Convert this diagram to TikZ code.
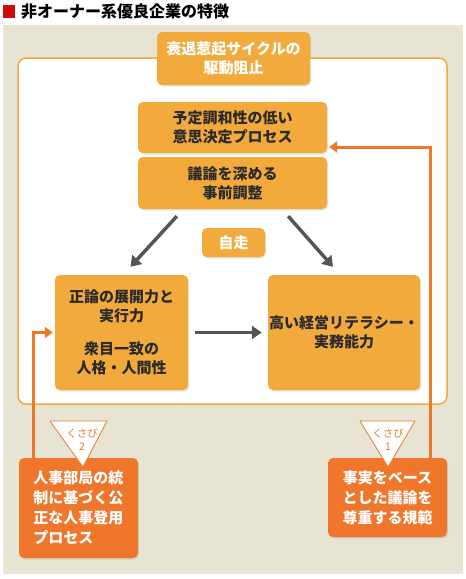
\documentclass[tikz,border=0pt]{standalone}
\usepackage{fontspec}
\setmainfont{Noto Sans CJK JP}
\usetikzlibrary{arrows.meta,shadows}

\definecolor{ground}{HTML}{E8E4D3}
\definecolor{boxorange}{HTML}{F3AA3D}
\definecolor{wedgeorange}{HTML}{EF762B}
\definecolor{arrowgray}{HTML}{555555}
\definecolor{textgray}{HTML}{2B2B2B}
\definecolor{titlered}{HTML}{CC0A0A}

\begin{document}
\begin{tikzpicture}[x=1pt, y=-1pt,
  box/.style={rounded corners=5pt, fill=boxorange, inner sep=0pt, align=center,
              font=\fontsize{15}{19}\selectfont\bfseries,
              drop shadow={opacity=0.22, shadow xshift=1pt, shadow yshift=-1.5pt}},
  soft/.style={box, text=textgray},
  bright/.style={box, text=white},
  wedgebox/.style={box, fill=wedgeorange, text=white,
                   font=\fontsize{15}{20}\selectfont\bfseries},
  flow/.style={line width=3.5pt, draw=arrowgray, -{Triangle[length=10pt,width=13pt]}},
  link/.style={line width=3pt, draw=wedgeorange, -{Triangle[length=8pt,width=11pt]}},
  wedge/.style={draw=wedgeorange, line width=0.8pt, fill=white, line join=round},
  wedgetext/.style={text=wedgeorange, font=\fontsize{10.5}{13}\selectfont,
                    align=center, inner sep=0pt},
]
\useasboundingbox (0,0) rectangle (466,579);

% Title
\fill[titlered] (3,5) rectangle (15,18);
\node[anchor=west, inner sep=0pt, font=\fontsize{16}{18}\selectfont\bfseries]
  (title) at (21,11.5) {非オーナー系優良企業の特徴};

% Background and panel
\fill[ground] (3,25) rectangle (463,574);
\draw[boxorange, line width=1.5pt, fill=white, rounded corners=8pt]
  (18,58) rectangle (447,404);

% Upper chain
\node[bright, minimum width=153pt, minimum height=53pt] (cycle) at (233.5,58.5)
  {衰退惹起サイクルの\\駆動阻止};
\node[soft, minimum width=189pt, minimum height=51pt] (decision) at (232.5,127.5)
  {予定調和性の低い\\意思決定プロセス};
\node[soft, minimum width=189pt, minimum height=52pt] (prep) at (232.5,183)
  {議論を深める\\事前調整};
\node[bright, minimum width=63pt, minimum height=29pt] (selfrun) at (233.5,242.5)
  {自走};

% Lower pair
\node[soft, minimum width=133pt, minimum height=115pt] (ethics) at (121.5,332.5)
  {正論の展開力と\\実行力\\[14pt]衆目一致の\\人格・人間性};
\node[soft, minimum width=152pt, minimum height=115pt] (literacy) at (344,332.5)
  {高い経営リテラシー・\\実務能力};

% Wedges (bottom)
\node[wedgebox, align=left, minimum width=119pt, minimum height=100pt] (hrbox)
  at (78.5,508) {人事部局の統\\制に基づく公\\正な人事登用\\プロセス};
\node[wedgebox, minimum width=119pt, minimum height=79pt] (normbox)
  at (387.5,497.5) {事実をベース\\とした議論を\\尊重する規範};

% Gray flow arrows
\draw[flow] ([xshift=39pt,yshift=-7pt]prep.south west) -- ([xshift=9pt,yshift=8pt]ethics.north);
\draw[flow] ([xshift=-39pt,yshift=-7pt]prep.south east) -- ([xshift=-11pt,yshift=8pt]literacy.north);
\draw[flow] ([xshift=7pt]ethics.east) -- ([xshift=-6pt]literacy.west);

% Orange feedback lines
\coordinate (bendA) at (33,332.5);
\coordinate (railB) at (430,147);
\draw[link, shorten >=2pt] (hrbox.north -| bendA) -- (bendA) -- (bendA -| ethics.west);
\draw[link, shorten >=2pt] (normbox.north -| railB) -- (railB) -- (railB -| decision.east);

% Wedge markers
\draw[wedge] (50,421) -- (107,421) -- (83,467) -- cycle;
\node[wedgetext] (wedgeA) at (82,439.5) {くさび\\2};
\draw[wedge] (360,421) -- (415,421) -- (388,467) -- cycle;
\node[wedgetext] (wedgeB) at (388,439.5) {くさび\\1};

\end{tikzpicture}
\end{document}
